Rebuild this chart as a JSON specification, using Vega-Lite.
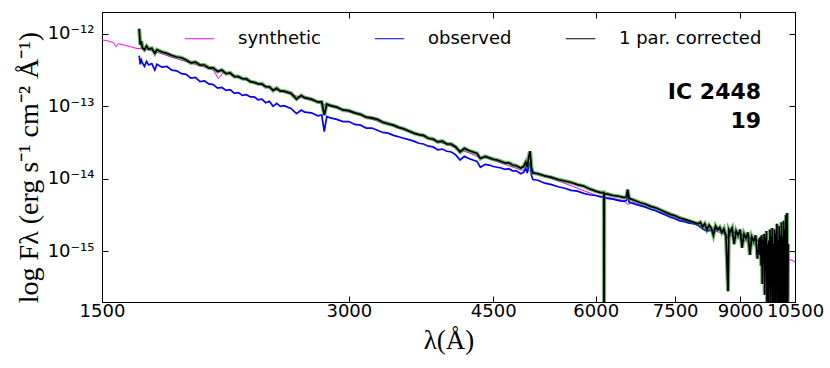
{
"$schema": "https://vega.github.io/schema/vega-lite/v6.json",
"width": 693, "height": 290, "autosize": "none",
"padding": {"left": 102, "top": 12, "right": 35, "bottom": 66},
"config": {
  "view": {"stroke": "black", "strokeWidth": 1},
  "axis": {"labelFont": "DejaVu Sans", "labelFontSize": 18, "labelColor": "black", "domainColor": "black", "tickColor": "black", "tickSize": -6, "grid": false, "titleColor": "black", "titleFontWeight": "normal"},
  "legend": {"labelFont": "DejaVu Sans", "labelFontSize": 18, "labelColor": "black", "labelLimit": 300}
},
"data": {"values": [
{"series":"synthetic","lam":1500,"logf":-12.082},{"series":"synthetic","lam":1530,"logf":-12.103},{"series":"synthetic","lam":1550,"logf":-12.123},{"series":"synthetic","lam":1560,"logf":-12.178},{"series":"synthetic","lam":1570,"logf":-12.137},{"series":"synthetic","lam":1600,"logf":-12.158},{"series":"synthetic","lam":1650,"logf":-12.199},{"series":"synthetic","lam":1700,"logf":-12.212},{"series":"synthetic","lam":1750,"logf":-12.253},{"series":"synthetic","lam":1800,"logf":-12.301},{"series":"synthetic","lam":1900,"logf":-12.384},{"series":"synthetic","lam":2000,"logf":-12.459},{"series":"synthetic","lam":2050,"logf":-12.5},{"series":"synthetic","lam":2080,"logf":-12.617},{"series":"synthetic","lam":2110,"logf":-12.527},{"series":"synthetic","lam":2200,"logf":-12.603},{"series":"synthetic","lam":2400,"logf":-12.747},{"series":"synthetic","lam":2600,"logf":-12.863},{"series":"synthetic","lam":2800,"logf":-12.973},{"series":"synthetic","lam":3000,"logf":-13.075},{"series":"synthetic","lam":3400,"logf":-13.274},{"series":"synthetic","lam":3800,"logf":-13.466},{"series":"synthetic","lam":4000,"logf":-13.548},{"series":"synthetic","lam":4100,"logf":-13.603},{"series":"synthetic","lam":4200,"logf":-13.64},{"series":"synthetic","lam":4340,"logf":-13.712},{"series":"synthetic","lam":4400,"logf":-13.705},{"series":"synthetic","lam":4861,"logf":-13.877},{"series":"synthetic","lam":5000,"logf":-13.891},{"series":"synthetic","lam":5400,"logf":-14.028},{"series":"synthetic","lam":6000,"logf":-14.226},{"series":"synthetic","lam":6500,"logf":-14.3},{"series":"synthetic","lam":6563,"logf":-14.356},{"series":"synthetic","lam":6650,"logf":-14.32},{"series":"synthetic","lam":7000,"logf":-14.411},{"series":"synthetic","lam":7500,"logf":-14.534},{"series":"synthetic","lam":8000,"logf":-14.644},{"series":"synthetic","lam":8500,"logf":-14.74},{"series":"synthetic","lam":9000,"logf":-14.822},{"series":"synthetic","lam":9500,"logf":-14.925},{"series":"synthetic","lam":10000,"logf":-15.035},{"series":"synthetic","lam":10300,"logf":-15.103},{"series":"synthetic","lam":10500,"logf":-15.144},

{"series":"observed","lam":1665,"logf":-12.3},{"series":"observed","lam":1670,"logf":-12.42},{"series":"observed","lam":1675,"logf":-12.36},{"series":"observed","lam":1680,"logf":-12.4},{"series":"observed","lam":1690,"logf":-12.45},{"series":"observed","lam":1700,"logf":-12.38},{"series":"observed","lam":1710,"logf":-12.43},{"series":"observed","lam":1725,"logf":-12.41},{"series":"observed","lam":1740,"logf":-12.5},{"series":"observed","lam":1750,"logf":-12.42},{"series":"observed","lam":1775,"logf":-12.46},{"series":"observed","lam":1800,"logf":-12.45},{"series":"observed","lam":1825,"logf":-12.5},{"series":"observed","lam":1850,"logf":-12.51},{"series":"observed","lam":1875,"logf":-12.55},{"series":"observed","lam":1900,"logf":-12.56},{"series":"observed","lam":1925,"logf":-12.61},{"series":"observed","lam":1950,"logf":-12.6},{"series":"observed","lam":1975,"logf":-12.66},{"series":"observed","lam":2000,"logf":-12.65},{"series":"observed","lam":2025,"logf":-12.69},{"series":"observed","lam":2050,"logf":-12.7},{"series":"observed","lam":2075,"logf":-12.75},{"series":"observed","lam":2100,"logf":-12.74},{"series":"observed","lam":2125,"logf":-12.78},{"series":"observed","lam":2150,"logf":-12.77},{"series":"observed","lam":2175,"logf":-12.82},{"series":"observed","lam":2200,"logf":-12.81},{"series":"observed","lam":2225,"logf":-12.85},{"series":"observed","lam":2250,"logf":-12.84},{"series":"observed","lam":2275,"logf":-12.87},{"series":"observed","lam":2300,"logf":-12.87},{"series":"observed","lam":2325,"logf":-12.91},{"series":"observed","lam":2350,"logf":-12.9},{"series":"observed","lam":2375,"logf":-12.95},{"series":"observed","lam":2400,"logf":-12.93},{"series":"observed","lam":2425,"logf":-13.0},{"series":"observed","lam":2450,"logf":-12.96},{"series":"observed","lam":2475,"logf":-13.0},{"series":"observed","lam":2500,"logf":-12.99},{"series":"observed","lam":2550,"logf":-13.03},{"series":"observed","lam":2590,"logf":-13.1},{"series":"observed","lam":2625,"logf":-13.05},{"series":"observed","lam":2650,"logf":-13.08},{"series":"observed","lam":2700,"logf":-13.09},{"series":"observed","lam":2750,"logf":-13.13},{"series":"observed","lam":2780,"logf":-13.12},{"series":"observed","lam":2800,"logf":-13.35},{"series":"observed","lam":2820,"logf":-13.14},{"series":"observed","lam":2850,"logf":-13.16},{"series":"observed","lam":2900,"logf":-13.18},{"series":"observed","lam":2950,"logf":-13.21},{"series":"observed","lam":3000,"logf":-13.21},{"series":"observed","lam":3050,"logf":-13.25},{"series":"observed","lam":3100,"logf":-13.26},{"series":"observed","lam":3150,"logf":-13.3},{"series":"observed","lam":3200,"logf":-13.3},{"series":"observed","lam":3250,"logf":-13.33},{"series":"observed","lam":3300,"logf":-13.36},{"series":"observed","lam":3350,"logf":-13.37},{"series":"observed","lam":3400,"logf":-13.4},{"series":"observed","lam":3450,"logf":-13.42},{"series":"observed","lam":3500,"logf":-13.44},{"series":"observed","lam":3550,"logf":-13.46},{"series":"observed","lam":3600,"logf":-13.48},{"series":"observed","lam":3650,"logf":-13.51},{"series":"observed","lam":3700,"logf":-13.52},{"series":"observed","lam":3750,"logf":-13.55},{"series":"observed","lam":3800,"logf":-13.56},{"series":"observed","lam":3850,"logf":-13.6},{"series":"observed","lam":3900,"logf":-13.59},{"series":"observed","lam":3950,"logf":-13.62},{"series":"observed","lam":4000,"logf":-13.63},{"series":"observed","lam":4050,"logf":-13.67},{"series":"observed","lam":4100,"logf":-13.74},{"series":"observed","lam":4150,"logf":-13.69},{"series":"observed","lam":4200,"logf":-13.72},{"series":"observed","lam":4250,"logf":-13.74},{"series":"observed","lam":4300,"logf":-13.76},{"series":"observed","lam":4340,"logf":-13.84},{"series":"observed","lam":4400,"logf":-13.8},{"series":"observed","lam":4450,"logf":-13.81},{"series":"observed","lam":4500,"logf":-13.83},{"series":"observed","lam":4550,"logf":-13.84},{"series":"observed","lam":4600,"logf":-13.85},{"series":"observed","lam":4650,"logf":-13.87},{"series":"observed","lam":4700,"logf":-13.86},{"series":"observed","lam":4750,"logf":-13.89},{"series":"observed","lam":4800,"logf":-13.89},{"series":"observed","lam":4861,"logf":-13.93},{"series":"observed","lam":4900,"logf":-13.91},{"series":"observed","lam":4930,"logf":-13.85},{"series":"observed","lam":4950,"logf":-13.92},{"series":"observed","lam":4975,"logf":-13.8},{"series":"observed","lam":4990,"logf":-13.78},{"series":"observed","lam":5010,"logf":-13.95},{"series":"observed","lam":5030,"logf":-14.01},{"series":"observed","lam":5100,"logf":-14.02},{"series":"observed","lam":5200,"logf":-14.06},{"series":"observed","lam":5300,"logf":-14.08},{"series":"observed","lam":5400,"logf":-14.11},{"series":"observed","lam":5500,"logf":-14.13},{"series":"observed","lam":5600,"logf":-14.16},{"series":"observed","lam":5700,"logf":-14.17},{"series":"observed","lam":5800,"logf":-14.2},{"series":"observed","lam":5900,"logf":-14.22},{"series":"observed","lam":6000,"logf":-14.23},{"series":"observed","lam":6080,"logf":-14.25},{"series":"observed","lam":6138,"logf":-14.25},{"series":"observed","lam":6142,"logf":-17.0},{"series":"observed","lam":6146,"logf":-14.26},{"series":"observed","lam":6200,"logf":-14.27},{"series":"observed","lam":6300,"logf":-14.28},{"series":"observed","lam":6400,"logf":-14.3},{"series":"observed","lam":6500,"logf":-14.31},{"series":"observed","lam":6540,"logf":-14.3},{"series":"observed","lam":6563,"logf":-14.2},{"series":"observed","lam":6590,"logf":-14.32},{"series":"observed","lam":6700,"logf":-14.35},{"series":"observed","lam":6800,"logf":-14.37},{"series":"observed","lam":6900,"logf":-14.39},{"series":"observed","lam":7000,"logf":-14.42},{"series":"observed","lam":7100,"logf":-14.44},{"series":"observed","lam":7200,"logf":-14.47},{"series":"observed","lam":7300,"logf":-14.5},{"series":"observed","lam":7400,"logf":-14.53},{"series":"observed","lam":7500,"logf":-14.55},{"series":"observed","lam":7600,"logf":-14.58},{"series":"observed","lam":7700,"logf":-14.59},{"series":"observed","lam":7800,"logf":-14.61},{"series":"observed","lam":7900,"logf":-14.62},{"series":"observed","lam":8000,"logf":-14.64},{"series":"observed","lam":8100,"logf":-14.69},{"series":"observed","lam":8200,"logf":-14.72},{"series":"observed","lam":8300,"logf":-14.71},{"series":"observed","lam":8400,"logf":-14.69},{"series":"observed","lam":8500,"logf":-14.71},{"series":"observed","lam":8600,"logf":-14.73},{"series":"observed","lam":8700,"logf":-14.82},{"series":"observed","lam":8800,"logf":-14.72},{"series":"observed","lam":8900,"logf":-14.76},{"series":"observed","lam":9000,"logf":-14.75},{"series":"observed","lam":9100,"logf":-14.8},{"series":"observed","lam":9200,"logf":-14.78},{"series":"observed","lam":9300,"logf":-14.85},{"series":"observed","lam":9400,"logf":-14.83},{"series":"observed","lam":9500,"logf":-14.88},{"series":"observed","lam":9600,"logf":-14.95},{"series":"observed","lam":9700,"logf":-15.05},{"series":"observed","lam":9800,"logf":-14.95},{"series":"observed","lam":9900,"logf":-15.2},{"series":"observed","lam":10000,"logf":-15.0},{"series":"observed","lam":10100,"logf":-15.3},{"series":"observed","lam":10200,"logf":-14.95},{"series":"observed","lam":10300,"logf":-15.1},

{"series":"1 par. corrected","lam":1665,"logf":-11.93},{"series":"1 par. corrected","lam":1670,"logf":-12.15},{"series":"1 par. corrected","lam":1675,"logf":-12.1},{"series":"1 par. corrected","lam":1680,"logf":-12.19},{"series":"1 par. corrected","lam":1690,"logf":-12.22},{"series":"1 par. corrected","lam":1700,"logf":-12.17},{"series":"1 par. corrected","lam":1710,"logf":-12.21},{"series":"1 par. corrected","lam":1725,"logf":-12.2},{"series":"1 par. corrected","lam":1740,"logf":-12.27},{"series":"1 par. corrected","lam":1750,"logf":-12.22},{"series":"1 par. corrected","lam":1775,"logf":-12.25},{"series":"1 par. corrected","lam":1800,"logf":-12.27},{"series":"1 par. corrected","lam":1825,"logf":-12.3},{"series":"1 par. corrected","lam":1850,"logf":-12.32},{"series":"1 par. corrected","lam":1875,"logf":-12.33},{"series":"1 par. corrected","lam":1900,"logf":-12.36},{"series":"1 par. corrected","lam":1925,"logf":-12.4},{"series":"1 par. corrected","lam":1950,"logf":-12.39},{"series":"1 par. corrected","lam":1975,"logf":-12.43},{"series":"1 par. corrected","lam":2000,"logf":-12.43},{"series":"1 par. corrected","lam":2025,"logf":-12.47},{"series":"1 par. corrected","lam":2050,"logf":-12.47},{"series":"1 par. corrected","lam":2075,"logf":-12.52},{"series":"1 par. corrected","lam":2100,"logf":-12.5},{"series":"1 par. corrected","lam":2125,"logf":-12.55},{"series":"1 par. corrected","lam":2150,"logf":-12.54},{"series":"1 par. corrected","lam":2175,"logf":-12.59},{"series":"1 par. corrected","lam":2200,"logf":-12.59},{"series":"1 par. corrected","lam":2225,"logf":-12.62},{"series":"1 par. corrected","lam":2250,"logf":-12.62},{"series":"1 par. corrected","lam":2275,"logf":-12.66},{"series":"1 par. corrected","lam":2300,"logf":-12.67},{"series":"1 par. corrected","lam":2325,"logf":-12.69},{"series":"1 par. corrected","lam":2350,"logf":-12.69},{"series":"1 par. corrected","lam":2375,"logf":-12.73},{"series":"1 par. corrected","lam":2400,"logf":-12.73},{"series":"1 par. corrected","lam":2425,"logf":-12.78},{"series":"1 par. corrected","lam":2450,"logf":-12.75},{"series":"1 par. corrected","lam":2475,"logf":-12.79},{"series":"1 par. corrected","lam":2500,"logf":-12.79},{"series":"1 par. corrected","lam":2550,"logf":-12.82},{"series":"1 par. corrected","lam":2590,"logf":-12.9},{"series":"1 par. corrected","lam":2625,"logf":-12.85},{"series":"1 par. corrected","lam":2650,"logf":-12.88},{"series":"1 par. corrected","lam":2700,"logf":-12.9},{"series":"1 par. corrected","lam":2750,"logf":-12.94},{"series":"1 par. corrected","lam":2780,"logf":-12.94},{"series":"1 par. corrected","lam":2800,"logf":-13.12},{"series":"1 par. corrected","lam":2820,"logf":-12.97},{"series":"1 par. corrected","lam":2850,"logf":-12.99},{"series":"1 par. corrected","lam":2900,"logf":-13.01},{"series":"1 par. corrected","lam":2950,"logf":-13.05},{"series":"1 par. corrected","lam":3000,"logf":-13.06},{"series":"1 par. corrected","lam":3050,"logf":-13.09},{"series":"1 par. corrected","lam":3100,"logf":-13.11},{"series":"1 par. corrected","lam":3150,"logf":-13.15},{"series":"1 par. corrected","lam":3200,"logf":-13.16},{"series":"1 par. corrected","lam":3250,"logf":-13.18},{"series":"1 par. corrected","lam":3300,"logf":-13.22},{"series":"1 par. corrected","lam":3350,"logf":-13.24},{"series":"1 par. corrected","lam":3400,"logf":-13.26},{"series":"1 par. corrected","lam":3450,"logf":-13.29},{"series":"1 par. corrected","lam":3500,"logf":-13.31},{"series":"1 par. corrected","lam":3550,"logf":-13.34},{"series":"1 par. corrected","lam":3600,"logf":-13.37},{"series":"1 par. corrected","lam":3650,"logf":-13.39},{"series":"1 par. corrected","lam":3700,"logf":-13.4},{"series":"1 par. corrected","lam":3750,"logf":-13.44},{"series":"1 par. corrected","lam":3800,"logf":-13.45},{"series":"1 par. corrected","lam":3850,"logf":-13.49},{"series":"1 par. corrected","lam":3900,"logf":-13.48},{"series":"1 par. corrected","lam":3950,"logf":-13.52},{"series":"1 par. corrected","lam":4000,"logf":-13.52},{"series":"1 par. corrected","lam":4050,"logf":-13.56},{"series":"1 par. corrected","lam":4100,"logf":-13.63},{"series":"1 par. corrected","lam":4150,"logf":-13.58},{"series":"1 par. corrected","lam":4200,"logf":-13.61},{"series":"1 par. corrected","lam":4250,"logf":-13.63},{"series":"1 par. corrected","lam":4300,"logf":-13.65},{"series":"1 par. corrected","lam":4340,"logf":-13.72},{"series":"1 par. corrected","lam":4400,"logf":-13.69},{"series":"1 par. corrected","lam":4450,"logf":-13.71},{"series":"1 par. corrected","lam":4500,"logf":-13.73},{"series":"1 par. corrected","lam":4550,"logf":-13.74},{"series":"1 par. corrected","lam":4600,"logf":-13.76},{"series":"1 par. corrected","lam":4650,"logf":-13.78},{"series":"1 par. corrected","lam":4700,"logf":-13.78},{"series":"1 par. corrected","lam":4750,"logf":-13.81},{"series":"1 par. corrected","lam":4800,"logf":-13.82},{"series":"1 par. corrected","lam":4861,"logf":-13.85},{"series":"1 par. corrected","lam":4900,"logf":-13.83},{"series":"1 par. corrected","lam":4930,"logf":-13.77},{"series":"1 par. corrected","lam":4950,"logf":-13.84},{"series":"1 par. corrected","lam":4975,"logf":-13.68},{"series":"1 par. corrected","lam":4990,"logf":-13.62},{"series":"1 par. corrected","lam":5010,"logf":-13.85},{"series":"1 par. corrected","lam":5030,"logf":-13.92},{"series":"1 par. corrected","lam":5100,"logf":-13.93},{"series":"1 par. corrected","lam":5200,"logf":-13.96},{"series":"1 par. corrected","lam":5300,"logf":-13.98},{"series":"1 par. corrected","lam":5400,"logf":-14.01},{"series":"1 par. corrected","lam":5500,"logf":-14.03},{"series":"1 par. corrected","lam":5600,"logf":-14.05},{"series":"1 par. corrected","lam":5700,"logf":-14.08},{"series":"1 par. corrected","lam":5800,"logf":-14.1},{"series":"1 par. corrected","lam":5900,"logf":-14.14},{"series":"1 par. corrected","lam":6000,"logf":-14.17},{"series":"1 par. corrected","lam":6080,"logf":-14.19},{"series":"1 par. corrected","lam":6138,"logf":-14.19},{"series":"1 par. corrected","lam":6142,"logf":-17.0},{"series":"1 par. corrected","lam":6146,"logf":-14.2},{"series":"1 par. corrected","lam":6200,"logf":-14.21},{"series":"1 par. corrected","lam":6300,"logf":-14.23},{"series":"1 par. corrected","lam":6400,"logf":-14.24},{"series":"1 par. corrected","lam":6500,"logf":-14.26},{"series":"1 par. corrected","lam":6540,"logf":-14.25},{"series":"1 par. corrected","lam":6563,"logf":-14.15},{"series":"1 par. corrected","lam":6590,"logf":-14.27},{"series":"1 par. corrected","lam":6700,"logf":-14.3},{"series":"1 par. corrected","lam":6800,"logf":-14.33},{"series":"1 par. corrected","lam":6900,"logf":-14.35},{"series":"1 par. corrected","lam":7000,"logf":-14.38},{"series":"1 par. corrected","lam":7100,"logf":-14.4},{"series":"1 par. corrected","lam":7200,"logf":-14.43},{"series":"1 par. corrected","lam":7300,"logf":-14.46},{"series":"1 par. corrected","lam":7400,"logf":-14.49},{"series":"1 par. corrected","lam":7500,"logf":-14.51},{"series":"1 par. corrected","lam":7600,"logf":-14.54},{"series":"1 par. corrected","lam":7700,"logf":-14.56},{"series":"1 par. corrected","lam":7800,"logf":-14.58},{"series":"1 par. corrected","lam":7900,"logf":-14.6},{"series":"1 par. corrected","lam":8000,"logf":-14.62},{"series":"1 par. corrected","lam":8050,"logf":-14.6},{"series":"1 par. corrected","lam":8100,"logf":-14.66},{"series":"1 par. corrected","lam":8150,"logf":-14.62},{"series":"1 par. corrected","lam":8200,"logf":-14.7},{"series":"1 par. corrected","lam":8250,"logf":-14.64},{"series":"1 par. corrected","lam":8300,"logf":-14.68},{"series":"1 par. corrected","lam":8350,"logf":-14.78},{"series":"1 par. corrected","lam":8400,"logf":-14.65},{"series":"1 par. corrected","lam":8450,"logf":-14.7},{"series":"1 par. corrected","lam":8500,"logf":-14.67},{"series":"1 par. corrected","lam":8550,"logf":-14.74},{"series":"1 par. corrected","lam":8600,"logf":-14.69},{"series":"1 par. corrected","lam":8650,"logf":-14.8},{"series":"1 par. corrected","lam":8700,"logf":-15.55},{"series":"1 par. corrected","lam":8720,"logf":-14.7},{"series":"1 par. corrected","lam":8750,"logf":-14.73},{"series":"1 par. corrected","lam":8800,"logf":-14.68},{"series":"1 par. corrected","lam":8850,"logf":-14.9},{"series":"1 par. corrected","lam":8900,"logf":-14.72},{"series":"1 par. corrected","lam":8950,"logf":-14.78},{"series":"1 par. corrected","lam":9000,"logf":-14.7},{"series":"1 par. corrected","lam":9050,"logf":-14.95},{"series":"1 par. corrected","lam":9100,"logf":-14.76},{"series":"1 par. corrected","lam":9150,"logf":-14.82},{"series":"1 par. corrected","lam":9200,"logf":-14.74},{"series":"1 par. corrected","lam":9250,"logf":-15.05},{"series":"1 par. corrected","lam":9300,"logf":-14.8},{"series":"1 par. corrected","lam":9350,"logf":-14.86},{"series":"1 par. corrected","lam":9400,"logf":-14.78},{"series":"1 par. corrected","lam":9450,"logf":-15.1},{"series":"1 par. corrected","lam":9500,"logf":-14.82},{"series":"1 par. corrected","lam":9516,"logf":-15.05},{"series":"1 par. corrected","lam":9532,"logf":-14.8},{"series":"1 par. corrected","lam":9548,"logf":-15.2},{"series":"1 par. corrected","lam":9564,"logf":-14.78},{"series":"1 par. corrected","lam":9580,"logf":-15.45},{"series":"1 par. corrected","lam":9596,"logf":-14.85},{"series":"1 par. corrected","lam":9612,"logf":-15.1},{"series":"1 par. corrected","lam":9628,"logf":-14.76},{"series":"1 par. corrected","lam":9644,"logf":-15.6},{"series":"1 par. corrected","lam":9660,"logf":-14.8},{"series":"1 par. corrected","lam":9676,"logf":-15.25},{"series":"1 par. corrected","lam":9692,"logf":-14.72},{"series":"1 par. corrected","lam":9708,"logf":-15.9},{"series":"1 par. corrected","lam":9724,"logf":-14.9},{"series":"1 par. corrected","lam":9740,"logf":-16.2},{"series":"1 par. corrected","lam":9756,"logf":-14.85},{"series":"1 par. corrected","lam":9772,"logf":-15.5},{"series":"1 par. corrected","lam":9788,"logf":-14.7},{"series":"1 par. corrected","lam":9804,"logf":-16.0},{"series":"1 par. corrected","lam":9820,"logf":-14.8},{"series":"1 par. corrected","lam":9836,"logf":-15.3},{"series":"1 par. corrected","lam":9852,"logf":-14.68},{"series":"1 par. corrected","lam":9868,"logf":-16.5},{"series":"1 par. corrected","lam":9884,"logf":-14.9},{"series":"1 par. corrected","lam":9900,"logf":-15.7},{"series":"1 par. corrected","lam":9916,"logf":-14.7},{"series":"1 par. corrected","lam":9932,"logf":-16.3},{"series":"1 par. corrected","lam":9948,"logf":-14.75},{"series":"1 par. corrected","lam":9964,"logf":-15.5},{"series":"1 par. corrected","lam":9980,"logf":-14.62},{"series":"1 par. corrected","lam":9996,"logf":-16.4},{"series":"1 par. corrected","lam":10012,"logf":-14.85},{"series":"1 par. corrected","lam":10028,"logf":-15.9},{"series":"1 par. corrected","lam":10044,"logf":-14.65},{"series":"1 par. corrected","lam":10060,"logf":-16.5},{"series":"1 par. corrected","lam":10076,"logf":-14.78},{"series":"1 par. corrected","lam":10092,"logf":-15.8},{"series":"1 par. corrected","lam":10108,"logf":-14.6},{"series":"1 par. corrected","lam":10124,"logf":-16.6},{"series":"1 par. corrected","lam":10140,"logf":-14.8},{"series":"1 par. corrected","lam":10156,"logf":-16.0},{"series":"1 par. corrected","lam":10172,"logf":-14.58},{"series":"1 par. corrected","lam":10188,"logf":-16.5},{"series":"1 par. corrected","lam":10204,"logf":-14.7},{"series":"1 par. corrected","lam":10220,"logf":-15.9},{"series":"1 par. corrected","lam":10236,"logf":-14.5},{"series":"1 par. corrected","lam":10252,"logf":-16.4},{"series":"1 par. corrected","lam":10268,"logf":-14.47},{"series":"1 par. corrected","lam":10284,"logf":-16.2},{"series":"1 par. corrected","lam":10300,"logf":-14.9}
]},
"layer": [
 {"transform": [{"filter": "datum.series == 'synthetic'"}],
  "mark": {"type": "line", "strokeWidth": 1, "clip": true},
  "encoding": {
    "x": {"field": "lam", "type": "quantitative", "scale": {"type": "log", "domain": [1500, 10500], "nice": false},
      "axis": {"orient": "bottom", "values": [1500, 3000, 4500, 6000, 7500, 9000, 10500], "labelFlush": false, "labelOverlap": false, "format": "d", "labelPadding": 6, "title": "λ(Å)", "titleFont": "Liberation Serif", "titleFontSize": 27, "titleBaseline": "top", "titleY": 25}},
    "y": {"field": "logf", "type": "quantitative", "scale": {"domain": [-15.699, -11.699], "nice": false, "zero": false},
      "axis": {"orient": "left", "values": [-12, -13, -14, -15], "labelPadding": 14, "labelExpr": "datum.value == -12 ? '10⁻¹²' : datum.value == -13 ? '10⁻¹³' : datum.value == -14 ? '10⁻¹⁴' : '10⁻¹⁵'", "title": "log Fλ  (erg s⁻¹ cm⁻² Å⁻¹)", "titleFont": "Liberation Serif", "titleFontSize": 28, "titleX": -73, "titleY": 155, "titleBaseline": "middle"}},
    "color": {"field": "series", "type": "nominal",
      "scale": {"domain": ["synthetic", "observed", "1 par. corrected"], "range": ["#ff00ff", "#0000ff", "#000000"]},
      "legend": {"title": null, "orient": "none", "direction": "horizontal", "legendX": 82, "legendY": 11, "symbolType": "stroke", "symbolSize": 870, "symbolStrokeWidth": 1, "labelOffset": 23, "columnPadding": 51, "padding": 0}}
  }},
 {"transform": [{"filter": "datum.series == 'observed'"}],
  "mark": {"type": "line", "strokeWidth": 1.7, "clip": true},
  "encoding": {
    "x": {"field": "lam", "type": "quantitative", "scale": {"type": "log", "domain": [1500, 10500], "nice": false},
      "axis": {"orient": "top", "values": [1500, 3000, 4500, 6000, 7500, 9000, 10500], "labels": false, "title": null}},
    "y": {"field": "logf", "type": "quantitative", "scale": {"domain": [-15.699, -11.699], "nice": false, "zero": false},
      "axis": {"orient": "right", "values": [-12, -13, -14, -15], "labels": false, "title": null}},
    "color": {"field": "series", "type": "nominal"}
  }},
 {"transform": [{"filter": "datum.series == '1 par. corrected'"}],
  "mark": {"type": "line", "strokeWidth": 4, "color": "#1f8f1f", "opacity": 0.65, "clip": true},
  "encoding": {
    "x": {"field": "lam", "type": "quantitative", "axis": null},
    "y": {"field": "logf", "type": "quantitative", "axis": null}
  }},
 {"transform": [{"filter": "datum.series == '1 par. corrected'"}],
  "mark": {"type": "line", "strokeWidth": 1.7, "clip": true},
  "encoding": {
    "x": {"field": "lam", "type": "quantitative", "axis": null},
    "y": {"field": "logf", "type": "quantitative", "axis": null},
    "color": {"field": "series", "type": "nominal"}
  }},
 {"data": {"values": [{"label": "IC 2448"}]},
  "mark": {"type": "text", "text": ["IC 2448", "19"], "font": "DejaVu Sans", "fontSize": 22, "fontWeight": "bold", "align": "right", "baseline": "alphabetic", "lineHeight": 29, "color": "black"},
  "encoding": {
    "x": {"datum": 9546, "type": "quantitative", "axis": null},
    "y": {"datum": -12.904, "type": "quantitative", "axis": null}
  }}
],
"resolve": {"axis": {"x": "independent", "y": "independent"}}
}
